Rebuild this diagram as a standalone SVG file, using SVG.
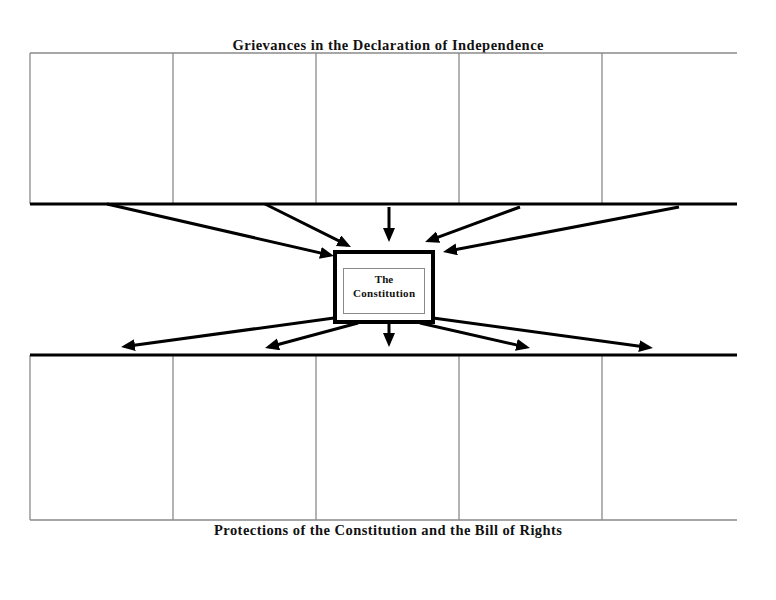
<svg xmlns="http://www.w3.org/2000/svg" width="776" height="600" viewBox="0 0 776 600">
<style>
.grid{stroke:#8a8a8a;stroke-width:1.3;fill:none}
.band{stroke:#000;stroke-width:3;fill:none}
.conn{stroke:#000;stroke-width:3;fill:none}
.ttl{font-family:"Liberation Serif","Times New Roman",serif;font-weight:bold;font-size:14.5px;fill:#111;text-anchor:middle}
.lbl{font-family:"Liberation Serif","Times New Roman",serif;font-weight:bold;font-size:11px;fill:#111;text-anchor:middle}
</style>
<defs>
<marker id="ah" markerUnits="userSpaceOnUse" markerWidth="15" markerHeight="13" refX="10" refY="6" orient="auto">
<path d="M0,0 L14,6 L0,12 z" fill="#000"/>
</marker>
</defs>
<rect width="776" height="600" fill="#fff"/>
<text class="ttl" x="388" y="50" textLength="311" lengthAdjust="spacing">Grievances in the Declaration of Independence</text>
<g id="top-grid">
<path class="grid" d="M30,53 H737 M30,53 V204 M173,53 V204 M316,53 V204 M459,53 V204 M602,53 V204"/>
<path class="band" d="M30,204 H737"/>
</g>
<g id="bottom-grid">
<path class="grid" d="M30,520 H737 M30,355 V520 M173,355 V520 M316,355 V520 M459,355 V520 M602,355 V520"/>
<path class="band" d="M30,355 H737"/>
</g>
<text class="ttl" x="388" y="535" textLength="348" lengthAdjust="spacing">Protections of the Constitution and the Bill of Rights</text>
<g id="constitution">
<rect x="335" y="252" width="98" height="70" fill="#fff" stroke="#000" stroke-width="4"/>
<rect x="343.5" y="268.5" width="81" height="45" fill="none" stroke="#8a8a8a" stroke-width="1"/>
<text class="lbl" x="384" y="283">The</text>
<text class="lbl" x="384" y="297" textLength="62" lengthAdjust="spacing">Constitution</text>
</g>
<g id="connectors">
<line class="conn" x1="107" y1="204" x2="330.1" y2="255.1" marker-end="url(#ah)"/>
<line class="conn" x1="265" y1="204" x2="347.4" y2="245.2" marker-end="url(#ah)"/>
<line class="conn" x1="389" y1="207" x2="389" y2="238" marker-end="url(#ah)"/>
<line class="conn" x1="520" y1="207" x2="428.8" y2="240.6" marker-end="url(#ah)"/>
<line class="conn" x1="679" y1="207" x2="446.9" y2="251.3" marker-end="url(#ah)"/>
<line class="conn" x1="334" y1="318" x2="125" y2="346.5" marker-end="url(#ah)"/>
<line class="conn" x1="358" y1="323" x2="268.9" y2="347" marker-end="url(#ah)"/>
<line class="conn" x1="389" y1="323" x2="389" y2="343" marker-end="url(#ah)"/>
<line class="conn" x1="420" y1="323" x2="526.1" y2="347.1" marker-end="url(#ah)"/>
<line class="conn" x1="433" y1="318" x2="649" y2="347.5" marker-end="url(#ah)"/>
</g>
</svg>
